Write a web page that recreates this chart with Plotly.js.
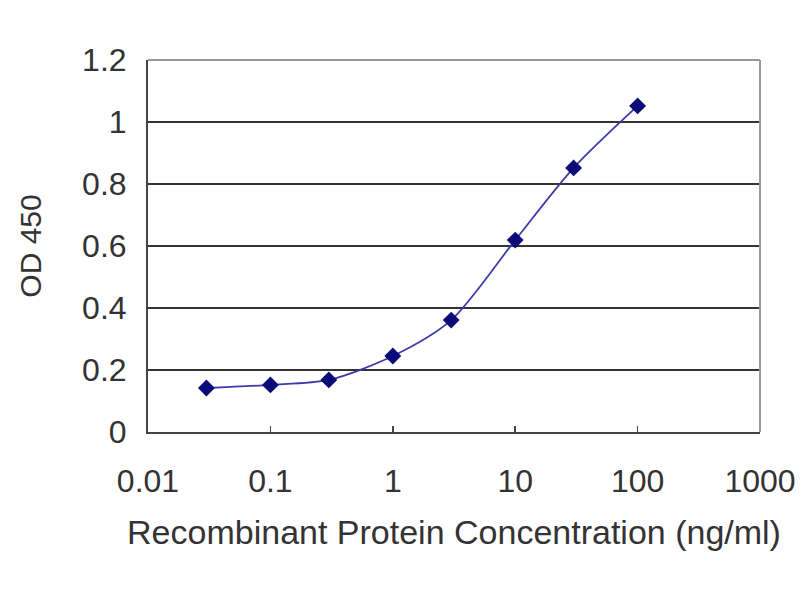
<!DOCTYPE html>
<html>
<head>
<meta charset="utf-8">
<script src="https://cdn.plot.ly/plotly-3.0.1.min.js"></script>
<style>html,body{margin:0;padding:0;background:#fff;}#chart{width:800px;height:600px;}</style>
</head>
<body>
<div id="chart"></div>
<script>
const concentration = [0.03, 0.1, 0.3, 1, 3, 10, 30, 100];
const od450 = [0.142, 0.152, 0.168, 0.245, 0.361, 0.619, 0.852, 1.052];
const xTickVals = [0.01, 0.1, 1, 10, 100, 1000];
const xTickText = ["0.01", "0.1", "1", "10", "100", "1000"];
const yTickVals = [0, 0.2, 0.4, 0.6, 0.8, 1, 1.2];
const yTickText = ["0", "0.2", "0.4", "0.6", "0.8", "1", "1.2"];

const font = "Liberation Sans, Arial, sans-serif";
const trace = {
  x: concentration, y: od450, type: 'scatter', mode: 'lines+markers',
  line: {color: '#3c3ca8', width: 1.8, shape: 'spline', smoothing: 0.8},
  marker: {symbol: 'diamond', size: 13, color: '#0a0a78'},
  hoverinfo: 'none'
};
const layout = {
  width: 800, height: 600,
  margin: {l: 148, r: 40, t: 60, b: 168},
  paper_bgcolor: '#fff', plot_bgcolor: '#fff',
  showlegend: false,
  font: {family: font, color: '#333', size: 32},
  xaxis: {
    type: 'log', range: [-2, 3], tickvals: xTickVals, ticktext: xTickText,
    ticks: 'inside', ticklen: 6, tickcolor: '#444', tickwidth: 1.5,
    showgrid: false, zeroline: false,
    showline: true, linecolor: '#444', linewidth: 2,
    tickfont: {size: 32, color: '#333', family: font},
    ticklabelstandoff: 20,
    title: {text: 'Recombinant Protein Concentration (ng/ml)', font: {size: 34, color: '#333', family: font}, standoff: 22}
  },
  yaxis: {
    range: [0, 1.2], tickvals: yTickVals, ticktext: yTickText,
    ticks: '', showgrid: true, gridcolor: '#333', gridwidth: 2,
    zeroline: false, showline: true, linecolor: '#444', linewidth: 2,
    tickfont: {size: 32, color: '#333', family: font},
    ticklabelstandoff: 13,
    title: {text: 'OD 450', font: {size: 30, color: '#333', family: font}, standoff: 32}
  },
  shapes: [
    {type: 'line', xref: 'paper', yref: 'paper', x0: 0, x1: 1, y0: 1, y1: 1, line: {color: '#999', width: 2}},
    {type: 'line', xref: 'paper', yref: 'paper', x0: 1, x1: 1, y0: 0, y1: 1, line: {color: '#999', width: 2}}
  ]
};
Plotly.newPlot('chart', [trace], layout, {staticPlot: true, displayModeBar: false});
</script>
</body>
</html>
